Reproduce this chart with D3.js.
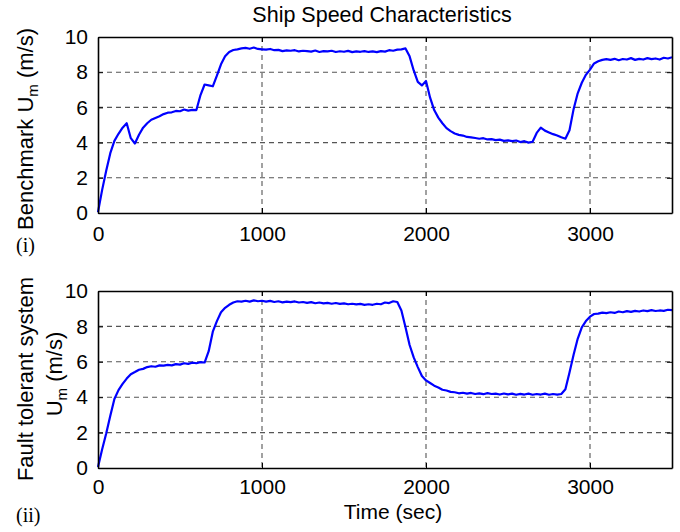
<!DOCTYPE html>
<html>
<head>
<meta charset="utf-8">
<script src="https://cdn.jsdelivr.net/npm/d3@7"></script>
<style>
  body { margin: 0; background: #fff; }
  text { font-family: "Liberation Sans", Arial, sans-serif; fill: #000; }
  .axis path, .axis line { stroke: #000; }
  .axis text { font-size: 21px; }
  .grid line { stroke: #555; stroke-dasharray: 5,4; stroke-width: 1.1; }
</style>
</head>
<body>
<script>
//sample times (sec), one reading every 25 s
var timeSec = d3.range(0, 3501, 25);

//panel (i): benchmark ship speed (m/s)
var benchmarkSpeed = [
  0.05, 1.3, 2.4, 3.4, 4.1, 4.5, 4.85, 5.1, 4.25, 3.95,
  4.45, 4.85, 5.1, 5.3, 5.4, 5.5, 5.62, 5.7, 5.72, 5.8,
  5.78, 5.88, 5.82, 5.86, 5.85, 6.7, 7.3, 7.25, 7.2, 7.8,
  8.45, 8.9, 9.15, 9.26, 9.3, 9.35, 9.38, 9.33, 9.4, 9.32,
  9.3, 9.28, 9.32, 9.25, 9.27, 9.2, 9.24, 9.22, 9.25, 9.18,
  9.22, 9.2, 9.17, 9.23, 9.15, 9.2, 9.18, 9.22, 9.15, 9.19,
  9.16, 9.21, 9.14, 9.18, 9.16, 9.2, 9.15, 9.18, 9.14, 9.2,
  9.17, 9.25, 9.22, 9.28, 9.3, 9.35, 8.9, 8.1, 7.45, 7.25,
  7.5, 6.55, 5.85, 5.42, 5.1, 4.82, 4.65, 4.52, 4.44, 4.4,
  4.32, 4.3, 4.26, 4.22, 4.25, 4.18, 4.2, 4.14, 4.17, 4.1,
  4.13, 4.08, 4.12, 4.03, 4.08, 4.0, 4.05, 4.55, 4.85, 4.68,
  4.58, 4.48, 4.4, 4.3, 4.22, 4.7, 5.9, 6.8, 7.4, 7.85,
  8.15, 8.5, 8.62, 8.7, 8.74, 8.7, 8.76, 8.68, 8.75, 8.72,
  8.8, 8.7, 8.76, 8.72, 8.8, 8.74, 8.78, 8.72, 8.82, 8.78,
  8.85
];

//panel (ii): fault tolerant system ship speed (m/s)
var faultTolerantSpeed = [
  0.05, 1.05, 1.95, 2.95, 3.9, 4.4, 4.75, 5.05, 5.3, 5.42,
  5.55, 5.6, 5.7, 5.75, 5.72, 5.8, 5.78, 5.83, 5.8, 5.87,
  5.84, 5.92, 5.88, 5.95, 5.92, 5.98, 5.96, 6.6, 7.7, 8.3,
  8.8, 9.05, 9.22, 9.35, 9.42, 9.4, 9.45, 9.4, 9.47, 9.42,
  9.45, 9.4, 9.44, 9.38, 9.42, 9.36, 9.4, 9.37, 9.41, 9.35,
  9.38, 9.33, 9.37, 9.31, 9.35, 9.3, 9.33, 9.28, 9.32, 9.27,
  9.3, 9.25, 9.28, 9.24, 9.27, 9.22, 9.25, 9.22, 9.28, 9.25,
  9.35, 9.32, 9.42, 9.38, 8.9, 7.95, 6.95, 6.25, 5.7, 5.2,
  4.95, 4.8, 4.65, 4.55, 4.42, 4.38, 4.3, 4.28, 4.22, 4.25,
  4.2, 4.24, 4.18, 4.22, 4.17, 4.23, 4.18, 4.2, 4.15, 4.21,
  4.16, 4.2, 4.14, 4.19, 4.15, 4.2, 4.14, 4.18, 4.15, 4.2,
  4.14, 4.18, 4.15, 4.18, 4.45, 5.4, 6.4, 7.3, 7.95, 8.3,
  8.55, 8.7, 8.72, 8.78, 8.75, 8.8, 8.76, 8.84, 8.8, 8.86,
  8.82, 8.88, 8.84, 8.9, 8.86, 8.92, 8.87, 8.9, 8.88, 8.94,
  8.92
];

//tick values
var xTicks = [0, 1000, 2000, 3000];
var yTicks = [0, 2, 4, 6, 8, 10];

var w = 680, h = 532;
var left = 98, right = 672;

var svg = d3.select("body").append("svg")
    .attr("width", w)
    .attr("height", h);

//shared x scale
var x = d3.scaleLinear()
    .domain([0, 3500])
    .range([left, right]);

//draws one panel between top and bottom pixel rows
function drawPanel(values, top, bottom, pad) {
    var y = d3.scaleLinear()
        .domain([0, 10])
        .range([bottom, top]);

    var g = svg.append("g");

    //dashed grid
    var grid = g.append("g").attr("class", "grid");
    grid.selectAll(".gx")
        .data(xTicks.slice(1))
        .enter().append("line")
        .attr("x1", function (d) { return x(d); })
        .attr("x2", function (d) { return x(d); })
        .attr("y1", top)
        .attr("y2", bottom);
    grid.selectAll(".gy")
        .data(yTicks.slice(1, -1))
        .enter().append("line")
        .attr("x1", left)
        .attr("x2", right)
        .attr("y1", function (d) { return y(d); })
        .attr("y2", function (d) { return y(d); });

    //speed trace
    var line = d3.line()
        .x(function (d, i) { return x(timeSec[i]); })
        .y(function (d) { return y(d); });
    g.append("path")
        .datum(values)
        .attr("d", line)
        .attr("fill", "none")
        .attr("stroke", "#0000ff")
        .attr("stroke-width", 2.2)
        .attr("stroke-linejoin", "round");

    //axes with inward ticks on all four sides
    g.append("g").attr("class", "axis")
        .attr("transform", "translate(0," + bottom + ")")
        .call(d3.axisBottom(x).tickValues(xTicks).tickFormat(d3.format("d"))
            .tickSizeInner(-5).tickSizeOuter(0).tickPadding(pad));
    g.append("g").attr("class", "axis")
        .attr("transform", "translate(0," + top + ")")
        .call(d3.axisTop(x).tickValues(xTicks).tickSizeInner(-5).tickSizeOuter(0).tickFormat(""));
    g.append("g").attr("class", "axis")
        .attr("transform", "translate(" + left + ",0)")
        .call(d3.axisLeft(y).tickValues(yTicks).tickSizeInner(-5).tickSizeOuter(0).tickPadding(10));
    g.append("g").attr("class", "axis")
        .attr("transform", "translate(" + right + ",0)")
        .call(d3.axisRight(y).tickValues(yTicks).tickSizeInner(-5).tickSizeOuter(0).tickFormat(""));

    g.selectAll(".axis path").attr("stroke-width", 1.6);
}

drawPanel(benchmarkSpeed, 37, 213, 13);
drawPanel(faultTolerantSpeed, 291, 468, 11);

//title
svg.append("text")
    .attr("x", 382)
    .attr("y", 22)
    .attr("text-anchor", "middle")
    .style("font-size", "21.5px")
    .text("Ship Speed Characteristics");

//x axis label
svg.append("text")
    .attr("x", 393)
    .attr("y", 519)
    .attr("text-anchor", "middle")
    .style("font-size", "21px")
    .text("Time (sec)");

//y label, panel (i)
var yl1 = svg.append("text")
    .attr("transform", "translate(33,129) rotate(-90)")
    .attr("text-anchor", "middle")
    .style("font-size", "22px");
yl1.append("tspan").text("Benchmark U");
yl1.append("tspan").attr("dy", 5).style("font-size", "15px").text("m");
yl1.append("tspan").attr("dy", -5).text(" (m/s)");

//y label, panel (ii), two lines
svg.append("text")
    .attr("transform", "translate(33,379) rotate(-90)")
    .attr("text-anchor", "middle")
    .style("font-size", "22px")
    .text("Fault tolerant system");
var yl2 = svg.append("text")
    .attr("transform", "translate(62,374) rotate(-90)")
    .attr("text-anchor", "middle")
    .style("font-size", "22px");
yl2.append("tspan").text("U");
yl2.append("tspan").attr("dy", 5).style("font-size", "15px").text("m");
yl2.append("tspan").attr("dy", -5).text(" (m/s)");

//panel markers
svg.append("text")
    .attr("x", 16)
    .attr("y", 252)
    .style("font-family", "'Liberation Serif', 'Times New Roman', serif")
    .style("font-size", "20px")
    .text("(i)");
svg.append("text")
    .attr("x", 16)
    .attr("y", 522)
    .style("font-family", "'Liberation Serif', 'Times New Roman', serif")
    .style("font-size", "20px")
    .text("(ii)");
</script>
</body>
</html>
